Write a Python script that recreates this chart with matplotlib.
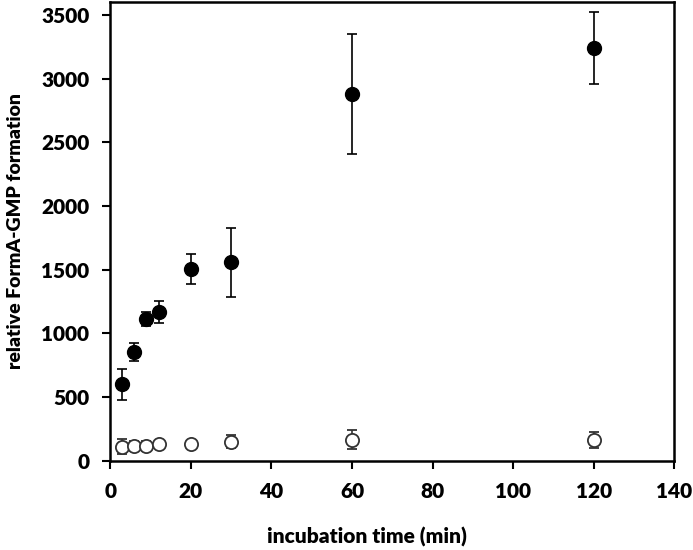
import numpy as np
import matplotlib.pyplot as plt

# incubation times (min)
time_filled = [3, 6, 9, 12, 20, 30, 60, 120]
formation_filled = [600, 855, 1110, 1170, 1505, 1560, 2880, 3240]
err_filled = [120, 70, 55, 85, 118, 270, 470, 285]

time_open = [3, 6, 9, 12, 20, 30, 60, 120]
formation_open = [112, 118, 118, 130, 130, 150, 165, 165]
err_open = [60, 40, 40, 25, 30, 50, 75, 60]

plt.rcParams['font.family'] = ['Lato', 'DejaVu Sans']
plt.rcParams['font.weight'] = 'heavy'

fig = plt.figure(figsize=(6.93, 5.5), dpi=100)
ax = fig.add_axes([0.159, 0.162, 0.814, 0.834])

# error bars first, then markers on top
ax.errorbar(time_open, formation_open, yerr=err_open, fmt='o', color='black',
            mfc='white', mec='#333333', mew=1.3, ms=9.5, ecolor='#333333',
            elinewidth=1.2, capsize=3.5, capthick=1.2)
ax.errorbar(time_filled, formation_filled, yerr=err_filled, fmt='o', color='black',
            mfc='black', mec='black', ms=10, ecolor='black',
            elinewidth=1.2, capsize=3.5, capthick=1.2)

ax.set_xlim(0, 140)
ax.set_ylim(0, 3600)
ax.set_xticks(np.arange(0, 141, 20))
ax.set_yticks(np.arange(0, 3501, 500))

for side in ax.spines:
    ax.spines[side].set_linewidth(1.8)
ax.tick_params(axis='both', direction='out', length=6, width=1.5,
               labelsize=15, pad=9)

ax.set_xlabel('incubation time (min)', fontsize=15, fontweight='heavy', labelpad=17)
ax.xaxis.set_label_coords(0.456, -0.145)
ax.set_ylabel('relative FormA-GMP formation', fontsize=14, fontweight='heavy', labelpad=12)

fig.savefig('out.png', dpi=100)
